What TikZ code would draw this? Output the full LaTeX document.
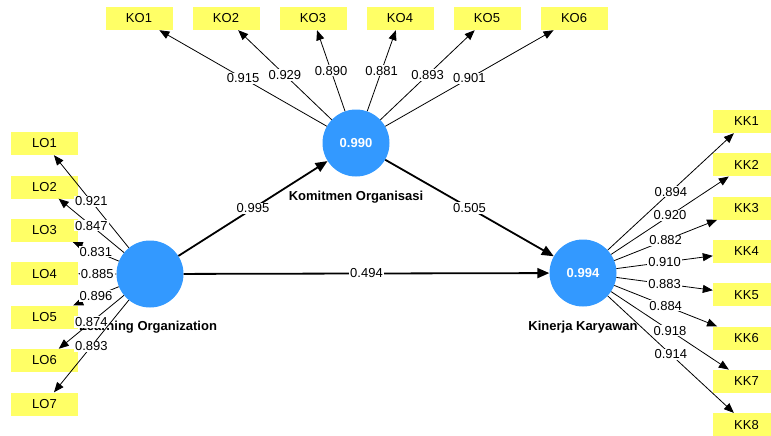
\documentclass[tikz,border=0pt]{standalone}
\usepackage{fontspec}
\setmainfont{Liberation Sans}
\usetikzlibrary{arrows.meta}
\definecolor{boxyellow}{RGB}{255,255,102}
\definecolor{circblue}{RGB}{51,153,255}
\begin{document}
\begin{tikzpicture}[x=1pt,y=-1pt,
  ind/.style={fill=boxyellow, minimum width=67pt, minimum height=23pt, inner sep=0pt, font=\fontsize{13}{15}\selectfont},
  lv/.style={circle, fill=circblue, minimum size=67pt, inner sep=0pt, text=white, font=\bfseries\fontsize{13}{15}\selectfont},
  lvname/.style={font=\bfseries\fontsize{13}{15}\selectfont},
  load/.style={draw=black, line width=0.8pt, -{Triangle[length=10pt,width=8pt]}},
  strpath/.style={draw=black, line width=1.8pt, -{Triangle[length=12pt,width=10pt]}},
  wl/.style={fill=white, inner sep=1pt, font=\fontsize{13}{15}\selectfont}
]
\useasboundingbox (0,0) rectangle (771,436);
\clip (0,0) rectangle (771,436);
% latent variables
\node[lv] (LO) at (150,274) {};
\node[lv] (KO) at (356,143) {0.990};
\node[lv] (KK) at (583,273) {0.994};
\node[lvname] (LOn) at (148,327) {Learning Organization};
\node[lvname] (KOn) at (356,197) {Komitmen Organisasi};
\node[lvname] (KKn) at (583,327) {Kinerja Karyawan};
% indicators
\node[ind] (LO1) at (44.5,143.5) {LO1};
\node[ind] (LO2) at (44.5,187) {LO2};
\node[ind] (LO3) at (44.5,230.3) {LO3};
\node[ind] (LO4) at (44.5,273.7) {LO4};
\node[ind] (LO5) at (44.5,317) {LO5};
\node[ind] (LO6) at (44.5,360.5) {LO6};
\node[ind] (LO7) at (44.5,404) {LO7};
\node[ind] (KO1) at (139,18.5) {KO1};
\node[ind] (KO2) at (226,18.5) {KO2};
\node[ind] (KO3) at (313,18.5) {KO3};
\node[ind] (KO4) at (400,18.5) {KO4};
\node[ind] (KO5) at (487,18.5) {KO5};
\node[ind] (KO6) at (574,18.5) {KO6};
\node[ind] (KK1) at (746.5,121.5) {KK1};
\node[ind] (KK2) at (746.5,164.8) {KK2};
\node[ind] (KK3) at (746.5,208.1) {KK3};
\node[ind] (KK4) at (746.5,251.4) {KK4};
\node[ind] (KK5) at (746.5,294.7) {KK5};
\node[ind] (KK6) at (746.5,338) {KK6};
\node[ind] (KK7) at (746.5,381.3) {KK7};
\node[ind] (KK8) at (746.5,424.6) {KK8};
% loadings
\draw[load] (LO) -- node[wl]{0.921} (LO1);
\draw[load] (LO) -- node[wl]{0.847} (LO2);
\draw[load] (LO) -- node[wl]{0.831} (LO3);
\draw[load] (LO) -- node[wl]{0.885} (LO4);
\draw[load] (LO) -- node[wl]{0.896} (LO5);
\draw[load] (LO) -- node[wl]{0.874} (LO6);
\draw[load] (LO) -- node[wl]{0.893} (LO7);
\draw[load] (KO) -- node[wl]{0.915} (KO1);
\draw[load] (KO) -- node[wl]{0.929} (KO2);
\draw[load] (KO) -- node[wl]{0.890} (KO3);
\draw[load] (KO) -- node[wl]{0.881} (KO4);
\draw[load] (KO) -- node[wl]{0.893} (KO5);
\draw[load] (KO) -- node[wl]{0.901} (KO6);
\draw[load] (KK) -- node[wl]{0.894} (KK1);
\draw[load] (KK) -- node[wl]{0.920} (KK2);
\draw[load] (KK) -- node[wl]{0.882} (KK3);
\draw[load] (KK) -- node[wl]{0.910} (KK4);
\draw[load] (KK) -- node[wl]{0.883} (KK5);
\draw[load] (KK) -- node[wl]{0.884} (KK6);
\draw[load] (KK) -- node[wl]{0.918} (KK7);
\draw[load] (KK) -- node[wl]{0.914} (KK8);
% structural paths
\draw[strpath] (LO) -- node[wl]{0.995} (KO);
\draw[strpath] (KO) -- node[wl]{0.505} (KK);
\draw[strpath] (LO) -- node[wl]{0.494} (KK);
\end{tikzpicture}
\end{document}
